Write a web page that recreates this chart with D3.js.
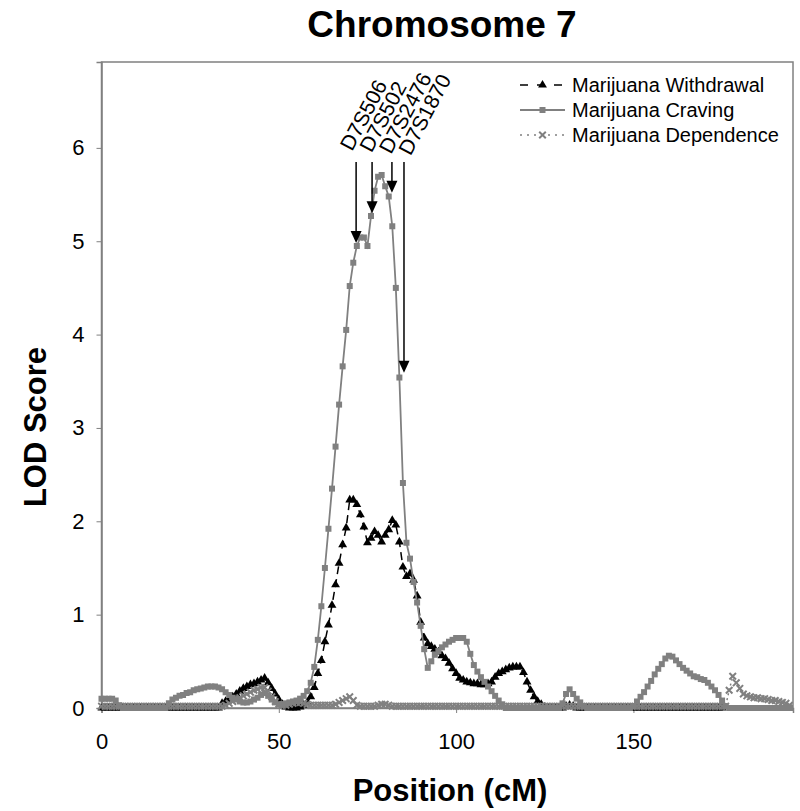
<!DOCTYPE html>
<html>
<head>
<meta charset="utf-8">
<script src="https://cdn.jsdelivr.net/npm/d3@7"></script>
<style>
  html, body { margin: 0; padding: 0; background: #fff; }
  svg { display: block; font-family: "Liberation Sans", Arial, sans-serif; }
</style>
</head>
<body>
<svg id="chart" width="800" height="811"></svg>
<script>
// ---------------- DATA ----------------
const positions = [
  0,1,2,3,4,5,6,7,8,9,10,11,12,13,14,15,16,17,18,19,
  20,21,22,23,24,25,26,27,28,29,30,31,32,33,34,35,36,37,38,39,
  40,41,42,43,44,45,46,47,48,49,50,51,52,53,54,55,56,57,58,59,
  60,61,62,63,64,65,66,67,68,69,70,71,72,73,74,75,76,77,78,79,
  80,81,82,83,84,85,86,87,88,89,90,91,92,93,94,95,96,97,98,99,
  100,101,102,103,104,105,106,107,108,109,110,111,112,113,114,115,116,117,118,119,
  120,121,122,123,124,125,126,127,128,129,130,131,132,133,134,135,136,137,138,139,
  140,141,142,143,144,145,146,147,148,149,150,151,152,153,154,155,156,157,158,159,
  160,161,162,163,164,165,166,167,168,169,170,171,172,173,174,175,176,177,178,179,
  180,181,182,183,184,185,186,187,188,189,190,191,192,193,194,195
];

// Marijuana Withdrawal (0..175 cM)
const withdrawalLOD = [
  0,0,0,0,0,0,0,0,0,0,                                   // 0-9
  0,0,0,0,0,0,0,0,0,0,                                   // 10-19
  0,0,0,0,0,0,0,0,0,0,                                   // 20-29
  0,0,0,0,0.05,0.07,0.09,0.12,0.15,0.18,                 // 30-39
  0.21,0.23,0.25,0.26,0.28,0.30,0.32,0.27,0.21,0.15,     // 40-49
  0.09,0.04,0.01,0,0,0,0.01,0.03,0.06,0.12,              // 50-59
  0.22,0.37,0.51,0.71,0.89,1.10,1.32,1.55,1.75,1.93,     // 60-69
  2.23,2.23,2.18,2.07,1.94,1.77,1.82,1.89,1.85,1.78,     // 70-79
  1.85,1.91,2.01,1.96,1.78,1.51,1.41,1.44,1.37,1.20,     // 80-89
  0.92,0.75,0.69,0.66,0.63,0.60,0.56,0.53,0.48,0.42,     // 90-99
  0.37,0.32,0.30,0.28,0.27,0.26,0.26,0.25,0.25,0.26,     // 100-109
  0.28,0.33,0.37,0.39,0.41,0.43,0.44,0.44,0.44,0.38,     // 110-119
  0.28,0.19,0.12,0.07,0.04,0.01,0,0,0,0,                 // 120-129
  0,0.02,0.03,0.02,0,0,0,0,0,0,                          // 130-139
  0,0,0,0,0,0,0,0,0,0,                                   // 140-149
  0,0,0,0,0,0,0,0,0,0,                                   // 150-159
  0,0,0,0,0,0,0,0,0,0,                                   // 160-169
  0,0,0,0,0,0                                            // 170-175
];

// Marijuana Craving (0..195 cM)
const cravingLOD = [
  0.10,0.10,0.10,0.10,0.08,0.03,0,0,0,0,                 // 0-9
  0,0,0,0,0,0,0,0,0,0.05,                                // 10-19
  0.09,0.11,0.13,0.14,0.16,0.17,0.19,0.20,0.21,0.22,     // 20-29
  0.23,0.23,0.23,0.22,0.20,0.17,0.14,0.11,0.09,0.07,     // 30-39
  0.06,0.06,0.07,0.09,0.11,0.14,0.16,0.13,0.09,0.06,     // 40-49
  0.04,0.04,0.05,0.06,0.07,0.08,0.10,0.13,0.18,0.27,     // 50-59
  0.44,0.73,1.09,1.50,1.92,2.35,2.80,3.25,3.66,4.05,     // 60-69
  4.52,4.77,4.95,5.04,5.04,4.95,5.27,5.54,5.69,5.71,     // 70-79
  5.59,5.48,5.16,4.50,3.54,2.41,1.77,1.60,1.35,1.13,     // 80-89
  0.88,0.63,0.43,0.50,0.57,0.61,0.65,0.68,0.71,0.73,     // 90-99
  0.75,0.75,0.75,0.71,0.58,0.46,0.39,0.33,0.28,0.23,     // 100-109
  0.18,0.13,0.08,0.04,0,0,0,0,0,0,                       // 110-119
  0,0,0,0,0,0,0,0,0,0,                                   // 120-129
  0.05,0.15,0.20,0.15,0.10,0.06,0.02,0,0,0,              // 130-139
  0,0,0,0,0,0,0,0,0,0,                                   // 140-149
  0.02,0.07,0.12,0.17,0.23,0.29,0.36,0.42,0.47,0.53,     // 150-159
  0.56,0.55,0.51,0.47,0.43,0.40,0.37,0.34,0.33,0.31,     // 160-169
  0.30,0.27,0.23,0.19,0.14,0.08,0.02,0,0,0,              // 170-179
  0,0,0,0,0,0,0,0,0,0,                                   // 180-189
  0,0,0,0,0,0                                            // 190-195
];

// Marijuana Dependence (0..195 cM)
const dependenceLOD = [
  0.02,0.02,0.02,0.02,0.02,0.02,0.02,0.02,0.02,0.02,     // 0-9
  0.02,0.02,0.02,0.02,0.02,0.02,0.02,0.02,0.02,0.02,     // 10-19
  0.02,0.02,0.02,0.02,0.02,0.02,0.02,0.02,0.02,0.02,     // 20-29
  0.02,0.02,0.02,0.02,0.02,0.03,0.05,0.07,0.09,0.11,     // 30-39
  0.13,0.15,0.17,0.19,0.20,0.22,0.22,0.18,0.12,0.07,     // 40-49
  0.04,0.03,0.03,0.04,0.05,0.06,0.06,0.05,0.04,0.03,     // 50-59
  0.03,0.03,0.03,0.03,0.03,0.03,0.04,0.06,0.08,0.10,     // 60-69
  0.12,0.08,0.03,0.02,0.02,0.02,0.02,0.02,0.03,0.04,     // 70-79
  0.04,0.03,0.02,0.02,0.02,0.02,0.02,0.02,0.02,0.02,     // 80-89
  0.02,0.02,0.02,0.02,0.02,0.02,0.02,0.02,0.02,0.02,     // 90-99
  0.02,0.02,0.02,0.02,0.02,0.02,0.02,0.02,0.02,0.02,     // 100-109
  0.02,0.02,0.02,0.02,0.02,0.02,0.02,0.02,0.02,0.02,     // 110-119
  0.02,0.02,0.02,0.02,0.02,0.02,0.02,0.02,0.02,0.02,     // 120-129
  0.02,0.02,0.02,0.02,0.02,0.02,0.02,0.02,0.02,0.02,     // 130-139
  0.02,0.02,0.02,0.02,0.02,0.02,0.02,0.02,0.02,0.02,     // 140-149
  0.02,0.02,0.02,0.02,0.02,0.02,0.02,0.02,0.02,0.02,     // 150-159
  0.02,0.02,0.02,0.02,0.02,0.02,0.02,0.02,0.02,0.02,     // 160-169
  0.02,0.02,0.02,0.02,0.02,0.02,0.02,0.19,0.34,0.27,     // 170-179
  0.21,0.15,0.13,0.12,0.11,0.11,0.10,0.10,0.09,0.08,     // 180-189
  0.08,0.07,0.06,0.05,0.03,0.01                          // 190-195
];

const seriesNames = ["Marijuana Withdrawal", "Marijuana Craving", "Marijuana Dependence"];

// Marker loci (arrows)
const markerNames = ["D7S506", "D7S502", "D7S2476", "D7S1870"];
const markerPos   = [71.8, 76.3, 81.9, 85.3];   // cM
const markerTip   = [4.98, 5.30, 5.52, 3.59];   // LOD at arrow tip

const xTicks = [0, 50, 100, 150];
const yTicks = [0, 1, 2, 3, 4, 5, 6];

// ---------------- LAYOUT ----------------
const W = 800, H = 811;
const margin = { left: 101.5, top: 62, right: 7, bottom: 103 };
const pw = W - margin.left - margin.right;
const ph = H - margin.top - margin.bottom;
const GRAY = "#808080";

const svg = d3.select("#chart");
const g = svg.append("g").attr("transform", `translate(${margin.left},${margin.top})`);

const x = d3.scaleLinear().domain([0, 195]).range([0, pw]);
const y = d3.scaleLinear().domain([0, 6.92]).range([ph, 0]);

// Plot frame (top & right)
g.append("rect").attr("x", 0).attr("y", 0).attr("width", pw).attr("height", ph)
  .attr("fill", "none").attr("stroke", GRAY).attr("stroke-width", 1.5);

// Axes
const xAxis = g.append("g").attr("transform", `translate(0,${ph})`)
  .call(d3.axisBottom(x).tickValues(xTicks).tickSize(5).tickPadding(20).tickFormat(d3.format("d")));
const yAxis = g.append("g")
  .call(d3.axisLeft(y).tickValues(yTicks).tickSize(5).tickPadding(12).tickFormat(d3.format("d")));
[xAxis, yAxis].forEach(a => {
  a.select(".domain").attr("stroke", GRAY).attr("stroke-width", 1.5);
  a.selectAll(".tick line").attr("stroke", GRAY).attr("stroke-width", 1);
  a.selectAll(".tick text").attr("font-size", 22).attr("fill", "#000")
    .attr("font-family", "'Liberation Sans', Arial, sans-serif");
});

// Clip
svg.append("defs").append("clipPath").attr("id", "clip")
  .append("rect").attr("x", -4).attr("y", -4).attr("width", pw + 4).attr("height", ph + 8);

const plot = g.append("g").attr("clip-path", "url(#clip)");

function pts(vals) { return vals.map((v, i) => [positions[i], v]); }
const line = d3.line().x(d => x(d[0])).y(d => y(d[1]));

const wData = pts(withdrawalLOD), cData = pts(cravingLOD), dData = pts(dependenceLOD);

// Withdrawal: black dashed, triangles
plot.append("path").datum(wData).attr("d", line).attr("fill", "none")
  .attr("stroke", "#000").attr("stroke-width", 1.5).attr("stroke-dasharray", "8,5");
plot.append("g").selectAll("path").data(wData).join("path")
  .attr("transform", d => `translate(${x(d[0])},${y(d[1])})`)
  .attr("d", d3.symbol(d3.symbolTriangle, 34)).attr("fill", "#000");

// Craving: gray solid, squares
plot.append("path").datum(cData).attr("d", line).attr("fill", "none")
  .attr("stroke", GRAY).attr("stroke-width", 1.8);
plot.append("g").selectAll("path").data(cData).join("path")
  .attr("transform", d => `translate(${x(d[0])},${y(d[1])})`)
  .attr("d", d3.symbol(d3.symbolSquare, 36)).attr("fill", GRAY);

// Dependence: gray dotted, x markers
plot.append("path").datum(dData).attr("d", line).attr("fill", "none")
  .attr("stroke", GRAY).attr("stroke-width", 1.5).attr("stroke-dasharray", "2,3");
plot.append("g").selectAll("path").data(dData).join("path")
  .attr("transform", d => `translate(${x(d[0])},${y(d[1])})`)
  .attr("d", d3.symbol(d3.symbolX, 30)).attr("fill", "none").attr("stroke", GRAY).attr("stroke-width", 2);

// Marker arrows and labels (labels evenly fanned above the arrows)
const arrowTopPx = 162 - margin.top;
const labelX0 = x(markerPos[0]) - 4, labelStep = 19.5;
markerNames.forEach((name, i) => {
  const ax = x(markerPos[i]);
  const tipY = y(markerTip[i]);
  g.append("line").attr("x1", ax).attr("x2", ax).attr("y1", arrowTopPx).attr("y2", tipY - 10)
    .attr("stroke", "#000").attr("stroke-width", 1.5);
  g.append("path")
    .attr("d", `M${ax - 5.5},${tipY - 12} L${ax + 5.5},${tipY - 12} L${ax},${tipY} Z`)
    .attr("fill", "#000");
  g.append("text")
    .attr("transform", `translate(${labelX0 + i * labelStep},${arrowTopPx - 10 + i * 1.5}) rotate(-62)`)
    .attr("font-size", 21).attr("fill", "#000").text(name);
});

// Legend
const legX0 = 520 - margin.left, legX1 = 565 - margin.left, legTx = 572 - margin.left;
const legY = [85, 110, 135].map(v => v - margin.top);
const legend = g.append("g");
// withdrawal
legend.append("line").attr("x1", legX0).attr("x2", legX1).attr("y1", legY[0]).attr("y2", legY[0])
  .attr("stroke", "#000").attr("stroke-width", 1.5).attr("stroke-dasharray", "8,9");
legend.append("path").attr("transform", `translate(${(legX0 + legX1) / 2},${legY[0]})`)
  .attr("d", d3.symbol(d3.symbolTriangle, 34)).attr("fill", "#000");
// craving
legend.append("line").attr("x1", legX0).attr("x2", legX1).attr("y1", legY[1]).attr("y2", legY[1])
  .attr("stroke", GRAY).attr("stroke-width", 1.8);
legend.append("path").attr("transform", `translate(${(legX0 + legX1) / 2},${legY[1]})`)
  .attr("d", d3.symbol(d3.symbolSquare, 36)).attr("fill", GRAY);
// dependence
legend.append("line").attr("x1", legX0).attr("x2", legX1).attr("y1", legY[2]).attr("y2", legY[2])
  .attr("stroke", GRAY).attr("stroke-width", 1.5).attr("stroke-dasharray", "2,5");
legend.append("path").attr("transform", `translate(${(legX0 + legX1) / 2},${legY[2]})`)
  .attr("d", d3.symbol(d3.symbolX, 30)).attr("fill", "none").attr("stroke", GRAY).attr("stroke-width", 2);
seriesNames.forEach((n, i) => {
  legend.append("text").attr("x", legTx).attr("y", legY[i]).attr("dy", "0.36em")
    .attr("font-size", 20).attr("fill", "#000").text(n);
});

// Titles
svg.append("text").attr("x", 442).attr("y", 37).attr("text-anchor", "middle")
  .attr("font-size", 37).attr("font-weight", "bold").text("Chromosome 7");
svg.append("text").attr("x", 450).attr("y", 801).attr("text-anchor", "middle")
  .attr("font-size", 31).attr("font-weight", "bold").text("Position (cM)");
svg.append("text").attr("transform", `translate(46,${margin.top + ph / 2 + 42}) rotate(-90)`)
  .attr("text-anchor", "middle").attr("font-size", 31).attr("font-weight", "bold").text("LOD Score");
</script>
</body>
</html>
